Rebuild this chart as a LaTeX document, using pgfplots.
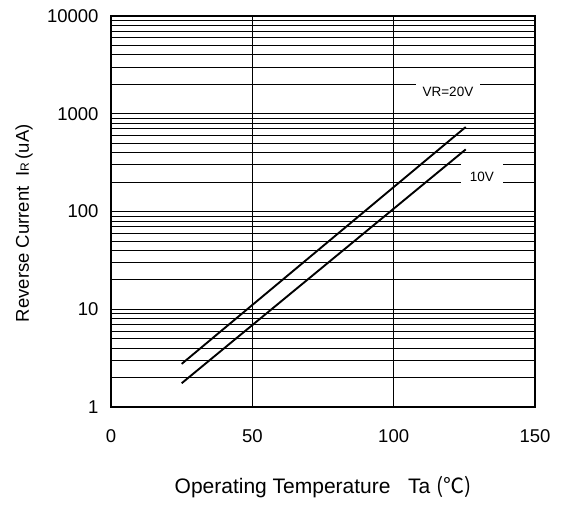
\documentclass[border=0pt]{standalone}
\usepackage{pgfplots}
\pgfplotsset{compat=1.18}
\usepackage{fontspec}
\setmainfont{Liberation Sans}
\newfontfamily\cjk{Noto Sans CJK JP}
\begin{document}
\begin{tikzpicture}
\path[use as bounding box] (-111pt,-97pt) rectangle (454pt,407pt);
\begin{axis}[
  at={(0pt,0pt)}, anchor=south west,
  scale only axis, width=424pt, height=391pt,
  xmin=0, xmax=150, ymode=log, ymin=1, ymax=10000,
  xtick={0,50,100,150}, ytick={1,10,100,1000,10000},
  yticklabels={1,10,100,1000,10000},
  minor ytick={2,3,4,5,6,7,8,9,20,30,40,50,60,70,80,90,200,300,400,500,600,700,800,900,2000,3000,4000,5000,6000,7000,8000,9000},
  log basis y=10,
  /pgf/number format/assume math mode=true,
  ticklabel style={font=\fontsize{18.5}{20}\selectfont},
  xticklabel style={yshift=-19pt},
  yticklabel style={xshift=-9pt},
  major tick length=0pt, minor tick length=0pt,
  grid=both,
  major grid style={black, line width=0.8pt},
  minor grid style={black, line width=0.8pt},
  axis line style={black, line width=1.8pt},
  xlabel={Operating Temperature\ \ \ Ta {\cjk (℃)}},
  xlabel style={font=\fontsize{21}{24}\selectfont, at={(axis description cs:0.5,-0.205)}, anchor=center},
  ylabel={Reverse Current\ \ I{\fontsize{12}{12}\selectfont R}\,(uA)},
  ylabel style={font=\fontsize{18.5}{20}\selectfont, at={(axis description cs:-0.205,0.47)}, anchor=center, rotate=0},
  clip=false,
]
\addplot[black, line width=1.9pt] coordinates {(25,2.76) (125.5,732)};
\addplot[black, line width=1.9pt] coordinates {(25,1.75) (125.5,432)};
\node[fill=white, inner xsep=7pt, inner ysep=8pt, font=\fontsize{13.5}{15}\selectfont] at (axis cs:119.2,1660) {VR=20V};
\node[fill=white, inner xsep=9pt, inner ysep=9pt, font=\fontsize{13.5}{15}\selectfont] at (axis cs:131.2,228) {10V};
\end{axis}
\end{tikzpicture}
\end{document}
